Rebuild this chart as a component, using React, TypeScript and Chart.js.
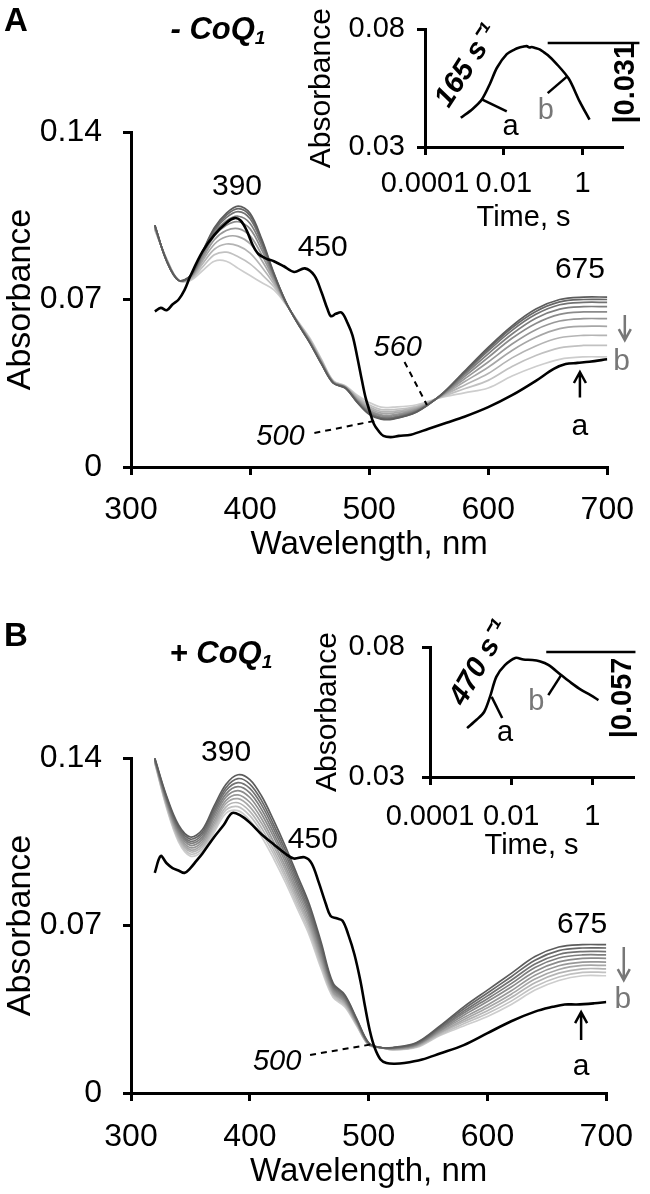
import React, { useEffect, useRef } from "react";
import { Chart, registerables } from "chart.js";

Chart.register(...registerables);

const SANS = "'Liberation Sans', Arial, Helvetica, sans-serif";

// ---------- axes ----------
const X_TICKS = [300, 400, 500, 600, 700];
const X_TICK_LABELS = ["300", "400", "500", "600", "700"];
const Y_TICKS = [0, 0.07, 0.14];
const Y_TICK_LABELS = ["0", "0.07", "0.14"];
const INSET_X_TICKS = [0.0001, 0.01, 1];
const INSET_X_TICK_LABELS = ["0.0001", "0.01", "1"];
const INSET_Y_TICKS = [0.03, 0.08];
const INSET_Y_TICK_LABELS = ["0.03", "0.08"];

// ---------- spectra: shared wavelength grid (nm) ----------
const WAVELENGTHS = [320, 330, 340, 350, 360, 370, 380, 390, 400, 410, 420, 430, 440, 450, 460, 470, 480, 490, 500, 510, 520, 540, 560, 580, 600, 620, 640, 660, 680, 700];

const GRAY_COLORS = ["#5c5c5c", "#676767", "#727272", "#7e7e7e", "#8b8b8b", "#989898", "#a6a6a6", "#b4b4b4", "#c1c1c1", "#cdcdcd"];

// Panel A (- CoQ1) gray spectra, earliest (dark) to latest (light)
const A_SPEC_1 = [0.101, 0.086, 0.078, 0.080, 0.090, 0.100, 0.106, 0.109, 0.106, 0.095, 0.081, 0.069, 0.060, 0.052, 0.043, 0.035, 0.033, 0.027, 0.022, 0.020, 0.020, 0.023, 0.030, 0.040, 0.050, 0.059, 0.066, 0.070, 0.071, 0.071];
const A_SPEC_2 = [0.101, 0.086, 0.078, 0.080, 0.0897, 0.0994, 0.1052, 0.108, 0.105, 0.0943, 0.0807, 0.069, 0.060, 0.0521, 0.0431, 0.035, 0.033, 0.0271, 0.0222, 0.0202, 0.0202, 0.0231, 0.030, 0.0396, 0.0493, 0.0582, 0.065, 0.069, 0.070, 0.070];
const A_SPEC_3 = [0.101, 0.086, 0.078, 0.0798, 0.0893, 0.0987, 0.1042, 0.1067, 0.1037, 0.0934, 0.0804, 0.0689, 0.0601, 0.0522, 0.0432, 0.0351, 0.0331, 0.0273, 0.0225, 0.0205, 0.0205, 0.0233, 0.0299, 0.0392, 0.0485, 0.0571, 0.0638, 0.0678, 0.0688, 0.0688];
const A_SPEC_4 = [0.101, 0.086, 0.078, 0.0797, 0.0887, 0.0978, 0.1028, 0.1048, 0.1018, 0.0921, 0.0799, 0.0688, 0.0602, 0.0523, 0.0433, 0.0352, 0.0332, 0.0275, 0.0228, 0.0208, 0.0208, 0.0235, 0.0298, 0.0386, 0.0473, 0.0556, 0.0622, 0.066, 0.067, 0.067];
const A_SPEC_5 = [0.1005, 0.0863, 0.078, 0.0795, 0.088, 0.0965, 0.101, 0.1025, 0.0995, 0.0905, 0.0793, 0.0688, 0.0603, 0.0525, 0.0435, 0.0353, 0.0333, 0.0278, 0.0233, 0.0213, 0.0213, 0.0238, 0.0298, 0.0378, 0.0458, 0.0538, 0.060, 0.0638, 0.0648, 0.0648];
const A_SPEC_6 = [0.100, 0.0864, 0.078, 0.0793, 0.0871, 0.095, 0.0988, 0.0996, 0.0966, 0.0885, 0.0785, 0.0686, 0.0604, 0.0527, 0.0437, 0.0354, 0.0334, 0.0281, 0.0238, 0.0218, 0.0218, 0.0241, 0.0296, 0.0368, 0.0439, 0.0514, 0.0574, 0.061, 0.062, 0.062];
const A_SPEC_7 = [0.100, 0.0865, 0.078, 0.079, 0.0861, 0.0931, 0.0962, 0.0963, 0.0933, 0.0862, 0.0776, 0.0685, 0.0605, 0.053, 0.044, 0.0355, 0.0335, 0.0285, 0.0245, 0.0225, 0.0225, 0.0245, 0.0295, 0.0356, 0.0417, 0.0487, 0.0542, 0.0578, 0.0588, 0.0588];
const A_SPEC_8 = [0.0997, 0.0866, 0.078, 0.0787, 0.0849, 0.091, 0.0932, 0.0924, 0.0894, 0.0835, 0.0765, 0.0684, 0.0606, 0.0533, 0.0443, 0.0356, 0.0336, 0.0289, 0.0252, 0.0232, 0.0232, 0.0249, 0.0294, 0.0342, 0.0391, 0.0456, 0.0506, 0.054, 0.055, 0.055];
const A_SPEC_9 = [0.0994, 0.0868, 0.078, 0.0784, 0.0835, 0.0887, 0.0898, 0.0879, 0.0849, 0.0804, 0.0753, 0.0682, 0.0608, 0.0536, 0.0446, 0.0358, 0.0338, 0.0294, 0.026, 0.024, 0.024, 0.0254, 0.0292, 0.0327, 0.0362, 0.042, 0.0466, 0.0498, 0.0508, 0.0508];
const A_SPEC_10 = [0.099, 0.087, 0.078, 0.078, 0.082, 0.086, 0.086, 0.083, 0.080, 0.077, 0.074, 0.068, 0.061, 0.054, 0.045, 0.036, 0.034, 0.030, 0.027, 0.025, 0.025, 0.026, 0.029, 0.031, 0.033, 0.038, 0.042, 0.045, 0.046, 0.046];

// Panel A initial spectrum (a, black)
const A_BLACK_WL = [320, 325, 330, 335, 340, 345, 350, 360, 370, 380, 387, 392, 397, 402, 407, 414, 420, 428, 437, 446, 454, 460, 465, 468, 472, 477, 482, 486, 490, 494, 497, 500, 504, 508, 512, 518, 525, 535, 550, 565, 580, 600, 620, 640, 655, 665, 675, 685, 700];
const A_BLACK = [0.065, 0.0665, 0.0655, 0.068, 0.070, 0.074, 0.080, 0.090, 0.097, 0.102, 0.104, 0.103, 0.099, 0.093, 0.089, 0.087, 0.086, 0.084, 0.0815, 0.083, 0.080, 0.073, 0.066, 0.063, 0.064, 0.0645, 0.060, 0.055, 0.046, 0.036, 0.029, 0.024, 0.018, 0.015, 0.013, 0.0125, 0.013, 0.0135, 0.016, 0.0185, 0.021, 0.025, 0.030, 0.036, 0.041, 0.043, 0.0435, 0.044, 0.045];

// Panel B (+ CoQ1) gray spectra
const B_SPEC_1 = [0.140, 0.124, 0.112, 0.107, 0.110, 0.120, 0.129, 0.133, 0.131, 0.124, 0.114, 0.103, 0.091, 0.079, 0.063, 0.046, 0.041, 0.031, 0.021, 0.019, 0.019, 0.021, 0.028, 0.036, 0.043, 0.050, 0.057, 0.061, 0.062, 0.062];
const B_SPEC_2 = [0.1398, 0.1235, 0.1112, 0.1061, 0.109, 0.1188, 0.1277, 0.1314, 0.1291, 0.1221, 0.1122, 0.1014, 0.0895, 0.0776, 0.0618, 0.0453, 0.0405, 0.0307, 0.0209, 0.019, 0.0189, 0.0208, 0.0276, 0.0351, 0.0418, 0.0486, 0.0555, 0.0595, 0.0606, 0.0606];
const B_SPEC_3 = [0.1396, 0.1229, 0.1105, 0.1052, 0.108, 0.1176, 0.1264, 0.1297, 0.1273, 0.1203, 0.1105, 0.0997, 0.0879, 0.0761, 0.0606, 0.0447, 0.0399, 0.0303, 0.0208, 0.019, 0.0188, 0.0206, 0.0271, 0.0342, 0.0406, 0.0471, 0.0539, 0.0579, 0.0591, 0.0591];
const B_SPEC_4 = [0.1393, 0.1224, 0.1097, 0.1044, 0.107, 0.1164, 0.125, 0.128, 0.1254, 0.1184, 0.1087, 0.098, 0.0864, 0.0747, 0.0594, 0.044, 0.0394, 0.030, 0.0207, 0.019, 0.0187, 0.0203, 0.0267, 0.0334, 0.0394, 0.0457, 0.0524, 0.0564, 0.0577, 0.0577];
const B_SPEC_5 = [0.1391, 0.1218, 0.1089, 0.1035, 0.106, 0.1152, 0.1237, 0.1264, 0.1235, 0.1165, 0.107, 0.0964, 0.0848, 0.0733, 0.0582, 0.0434, 0.0388, 0.0297, 0.0206, 0.019, 0.0186, 0.0201, 0.0262, 0.0325, 0.0382, 0.0443, 0.0508, 0.0548, 0.0563, 0.0563];
const B_SPEC_6 = [0.1389, 0.1212, 0.1081, 0.1025, 0.105, 0.1138, 0.1223, 0.1246, 0.1215, 0.1145, 0.105, 0.0946, 0.0832, 0.0717, 0.0568, 0.0426, 0.0382, 0.0293, 0.0204, 0.019, 0.0184, 0.0199, 0.0258, 0.0315, 0.0368, 0.0427, 0.0492, 0.0532, 0.0547, 0.0547];
const B_SPEC_7 = [0.1387, 0.1207, 0.1073, 0.1016, 0.104, 0.1126, 0.121, 0.123, 0.1196, 0.1126, 0.1033, 0.093, 0.0816, 0.0703, 0.0556, 0.042, 0.0377, 0.029, 0.0203, 0.019, 0.0183, 0.0197, 0.0253, 0.0306, 0.0356, 0.0413, 0.0476, 0.0516, 0.0533, 0.0533];
const B_SPEC_8 = [0.1384, 0.1201, 0.1065, 0.1008, 0.103, 0.1114, 0.1196, 0.1213, 0.1177, 0.1107, 0.1015, 0.0913, 0.0801, 0.0689, 0.0544, 0.0413, 0.0371, 0.0287, 0.0202, 0.019, 0.0182, 0.0194, 0.0249, 0.0298, 0.0344, 0.0399, 0.0461, 0.0501, 0.0519, 0.0519];
const B_SPEC_9 = [0.1382, 0.1196, 0.1058, 0.0999, 0.102, 0.1102, 0.1183, 0.1197, 0.1159, 0.1089, 0.0998, 0.0897, 0.0785, 0.0674, 0.0532, 0.0407, 0.0366, 0.0283, 0.0201, 0.019, 0.0181, 0.0192, 0.0244, 0.0289, 0.0332, 0.0384, 0.0445, 0.0485, 0.0504, 0.0504];
const B_SPEC_10 = [0.138, 0.119, 0.105, 0.099, 0.101, 0.109, 0.117, 0.118, 0.114, 0.107, 0.098, 0.088, 0.077, 0.066, 0.052, 0.040, 0.036, 0.028, 0.020, 0.019, 0.018, 0.019, 0.024, 0.028, 0.032, 0.037, 0.043, 0.047, 0.049, 0.049];

// Panel B initial spectrum (a, black)
const B_BLACK_WL = [320, 325, 330, 335, 340, 345, 350, 355, 360, 370, 378, 385, 392, 400, 410, 420, 430, 437, 446, 452, 458, 464, 468, 473, 478, 483, 488, 493, 497, 501, 505, 510, 515, 522, 530, 545, 560, 580, 600, 620, 640, 655, 665, 675, 690, 700];
const B_BLACK = [0.092, 0.099, 0.096, 0.094, 0.093, 0.092, 0.094, 0.097, 0.100, 0.107, 0.112, 0.117, 0.116, 0.113, 0.108, 0.104, 0.100, 0.098, 0.0985, 0.096, 0.088, 0.079, 0.074, 0.073, 0.072, 0.066, 0.058, 0.047, 0.036, 0.026, 0.019, 0.014, 0.0125, 0.0122, 0.0125, 0.014, 0.0165, 0.020, 0.025, 0.030, 0.034, 0.036, 0.037, 0.037, 0.0375, 0.038];

// Insets: absorbance time courses
const INSET_A_TIME = [0.00081, 0.00164, 0.00277, 0.0044, 0.0067, 0.0119, 0.019, 0.024, 0.030, 0.038, 0.045, 0.051, 0.063, 0.081, 0.10, 0.13, 0.209, 0.443, 0.84, 1.5];
const INSET_A_ABS = [0.0424, 0.0463, 0.0502, 0.0567, 0.0637, 0.0695, 0.0715, 0.0722, 0.0726, 0.0729, 0.0723, 0.0725, 0.0721, 0.0715, 0.0705, 0.0691, 0.0657, 0.0591, 0.0494, 0.0416];
const INSET_B_TIME = [0.00082, 0.0014, 0.00215, 0.0030, 0.0043, 0.007, 0.0126, 0.020, 0.033, 0.050, 0.082, 0.17, 0.30, 0.53, 0.90, 1.41];
const INSET_B_ABS = [0.0488, 0.052, 0.055, 0.0608, 0.0685, 0.073, 0.0758, 0.0752, 0.075, 0.0745, 0.0731, 0.0692, 0.0662, 0.0635, 0.0615, 0.0596];

const A_GRAYS = [A_SPEC_1, A_SPEC_2, A_SPEC_3, A_SPEC_4, A_SPEC_5, A_SPEC_6, A_SPEC_7, A_SPEC_8, A_SPEC_9, A_SPEC_10];
const B_GRAYS = [B_SPEC_1, B_SPEC_2, B_SPEC_3, B_SPEC_4, B_SPEC_5, B_SPEC_6, B_SPEC_7, B_SPEC_8, B_SPEC_9, B_SPEC_10];

// ---------- annotations (in data coordinates) ----------
type Ann =
  | { k: "text"; x: number; y: number; text: string; size: number; style?: string; color?: string; rot?: number }
  | { k: "line"; x1: number; y1: number; x2: number; y2: number; dash?: number[]; width?: number; color?: string }
  | { k: "arrow"; x: number; from: number; to: number; color: string };

const A_ANN: Ann[] = [
  { k: "text", x: 389, y: 0.117, text: "390", size: 30 },
  { k: "text", x: 461, y: 0.0915, text: "450", size: 30 },
  { k: "text", x: 677, y: 0.0823, text: "675", size: 30 },
  { k: "text", x: 524, y: 0.0497, text: "560", size: 29, style: "italic" },
  { k: "line", x1: 529.7, y1: 0.0439, x2: 548.5, y2: 0.0259, dash: [6, 5], width: 2 },
  { k: "text", x: 425.5, y: 0.0125, text: "500", size: 29, style: "italic" },
  { k: "line", x1: 454, y1: 0.0142, x2: 507.7, y2: 0.0196, dash: [6, 5], width: 2 },
  { k: "arrow", x: 714.7, from: 0.0635, to: 0.053, color: "#777" },
  { k: "text", x: 712, y: 0.0439, text: "b", size: 30, color: "#777" },
  { k: "arrow", x: 677, from: 0.029, to: 0.0397, color: "#000" },
  { k: "text", x: 677, y: 0.0167, text: "a", size: 30 },
];

const B_ANN: Ann[] = [
  { k: "text", x: 380, y: 0.142, text: "390", size: 30 },
  { k: "text", x: 453, y: 0.1057, text: "450", size: 30 },
  { k: "text", x: 679.6, y: 0.0702, text: "675", size: 30 },
  { k: "text", x: 423, y: 0.013, text: "500", size: 29, style: "italic" },
  { k: "line", x1: 450.7, y1: 0.0159, x2: 504.5, y2: 0.0205, dash: [6, 5], width: 2 },
  { k: "arrow", x: 714.7, from: 0.061, to: 0.0472, color: "#777" },
  { k: "text", x: 714, y: 0.0389, text: "b", size: 30, color: "#777" },
  { k: "arrow", x: 678.8, from: 0.0221, to: 0.0338, color: "#000" },
  { k: "text", x: 678.8, y: 0.0109, text: "a", size: 30 },
];

const INSET_A_ANN: Ann[] = [
  { k: "line", x1: 0.00277, y1: 0.0502, x2: 0.0119, y2: 0.0451, width: 2.5 },
  { k: "text", x: 0.0149, y: 0.0385, text: "a", size: 29 },
  { k: "line", x1: 0.394, y1: 0.0598, x2: 0.13, y2: 0.0529, width: 2.5 },
  { k: "text", x: 0.116, y: 0.0455, text: "b", size: 29, color: "#777" },
  { k: "text", x: 0.00118, y: 0.0645, text: "165 s\u207B\u00B9", size: 29, style: "italic bold", rot: -57 },
  { k: "line", x1: 0.13, y1: 0.0742, x2: 27.7, y2: 0.0742, width: 2.5 },
  { k: "text", x: 13.0, y: 0.0571, text: "|0.031", size: 29, style: "bold", rot: -90 },
];

const INSET_B_ANN: Ann[] = [
  { k: "line", x1: 0.0033, y1: 0.0608, x2: 0.006, y2: 0.0527, width: 2.5 },
  { k: "text", x: 0.0071, y: 0.0469, text: "a", size: 29 },
  { k: "line", x1: 0.17, y1: 0.0692, x2: 0.082, y2: 0.0615, width: 2.5 },
  { k: "text", x: 0.0414, y: 0.0588, text: "b", size: 29, color: "#777" },
  { k: "text", x: 0.00172, y: 0.0738, text: "470 s\u207B\u00B9", size: 29, style: "italic bold", rot: -60 },
  { k: "line", x1: 0.073, y1: 0.0781, x2: 11.5, y2: 0.0781, width: 2.5 },
  { k: "text", x: 5.8, y: 0.0604, text: "|0.057", size: 29, style: "bold", rot: -90 },
];

function annotationPlugin(items: Ann[]) {
  return {
    id: "annotations",
    afterDraw(chart: any) {
      const ctx = chart.ctx;
      const xs = chart.scales.x;
      const ys = chart.scales.y;
      for (const a of items) {
        ctx.save();
        if (a.k === "text") {
          ctx.translate(xs.getPixelForValue(a.x), ys.getPixelForValue(a.y));
          if (a.rot) ctx.rotate((a.rot * Math.PI) / 180);
          ctx.font = `${a.style || ""} ${a.size}px ${SANS}`;
          ctx.fillStyle = a.color || "#000";
          ctx.textAlign = "center";
          ctx.textBaseline = "middle";
          ctx.fillText(a.text, 0, 0);
        } else if (a.k === "line") {
          ctx.strokeStyle = a.color || "#000";
          ctx.lineWidth = a.width || 2;
          ctx.setLineDash(a.dash || []);
          ctx.beginPath();
          ctx.moveTo(xs.getPixelForValue(a.x1), ys.getPixelForValue(a.y1));
          ctx.lineTo(xs.getPixelForValue(a.x2), ys.getPixelForValue(a.y2));
          ctx.stroke();
        } else if (a.k === "arrow") {
          const px = xs.getPixelForValue(a.x);
          const p1 = ys.getPixelForValue(a.from);
          const p2 = ys.getPixelForValue(a.to);
          const dir = Math.sign(p2 - p1);
          ctx.strokeStyle = a.color;
          ctx.lineWidth = 2.5;
          ctx.beginPath();
          ctx.moveTo(px, p1);
          ctx.lineTo(px, p2 - dir);
          ctx.moveTo(px - 6, p2 - dir * 11);
          ctx.lineTo(px, p2);
          ctx.lineTo(px + 6, p2 - dir * 11);
          ctx.stroke();
        }
        ctx.restore();
      }
    },
  };
}

type Geom = {
  width: number;
  height: number;
  padTop: number;
  padRight: number;
  yWidth: number;
  xHeight: number;
  xTickPad: number;
  xTitlePadBottom: number;
  yTickPad: number;
  yTitlePadTop: number;
};

function mainChart(canvas: HTMLCanvasElement, grays: number[][], blackWl: number[], black: number[], ann: Ann[], g: Geom) {
  const datasets: any[] = [
    { data: blackWl.map((x, i) => ({ x, y: black[i] })), borderColor: "#000", borderWidth: 2.6 },
    ...grays.map((s, i) => ({
      data: WAVELENGTHS.map((x, j) => ({ x, y: s[j] })),
      borderColor: GRAY_COLORS[i],
      borderWidth: 1.7,
    })),
  ];
  return new Chart(canvas, {
    type: "line",
    data: { datasets },
    options: {
      animation: false,
      responsive: false,
      events: [],
      layout: { padding: { left: 0, right: g.padRight, top: g.padTop, bottom: 0 } },
      plugins: { legend: { display: false }, tooltip: { enabled: false } },
      elements: { point: { radius: 0 }, line: { tension: 0.35 } },
      scales: {
        x: {
          type: "linear",
          min: 300,
          max: 700,
          afterBuildTicks: (s: any) => {
            s.ticks = X_TICKS.map((v) => ({ value: v }));
          },
          ticks: {
            callback: (_v: any, i: number) => X_TICK_LABELS[i],
            font: { family: SANS, size: 32 },
            color: "#000",
            padding: g.xTickPad,
            maxRotation: 0,
            autoSkip: false,
          },
          grid: { drawOnChartArea: false, tickLength: 8, color: "#000", lineWidth: 3 },
          border: { display: true, color: "#000", width: 3 },
          title: {
            display: true,
            text: "Wavelength, nm",
            font: { family: SANS, size: 33 },
            color: "#000",
            padding: { top: 0, bottom: g.xTitlePadBottom },
          },
          afterFit: (s: any) => {
            s.height = g.xHeight;
          },
        },
        y: {
          type: "linear",
          min: 0,
          max: 0.14,
          afterBuildTicks: (s: any) => {
            s.ticks = Y_TICKS.map((v) => ({ value: v }));
          },
          ticks: {
            callback: (_v: any, i: number) => Y_TICK_LABELS[i],
            font: { family: SANS, size: 32 },
            color: "#000",
            padding: g.yTickPad,
          },
          grid: { drawOnChartArea: false, tickLength: 8, color: "#000", lineWidth: 3 },
          border: { display: true, color: "#000", width: 3 },
          title: {
            display: true,
            text: "Absorbance",
            font: { family: SANS, size: 34 },
            color: "#000",
            padding: { top: g.yTitlePadTop, bottom: 0 },
          },
          afterFit: (s: any) => {
            s.width = g.yWidth;
          },
        },
      },
    },
    plugins: [annotationPlugin(ann)],
  } as any);
}

function insetChart(canvas: HTMLCanvasElement, times: number[], abs: number[], ann: Ann[], g: Geom) {
  return new Chart(canvas, {
    type: "line",
    data: {
      datasets: [
        { data: times.map((x, i) => ({ x, y: abs[i] })), borderColor: "#000", borderWidth: 2.6 },
      ],
    },
    options: {
      animation: false,
      responsive: false,
      events: [],
      layout: { padding: { left: 0, right: g.padRight, top: g.padTop, bottom: 0 } },
      plugins: { legend: { display: false }, tooltip: { enabled: false } },
      elements: { point: { radius: 0 }, line: { tension: 0.3 } },
      scales: {
        x: {
          type: "logarithmic",
          min: 0.0001,
          max: 10,
          afterBuildTicks: (s: any) => {
            s.ticks = INSET_X_TICKS.map((v) => ({ value: v }));
          },
          ticks: {
            callback: (_v: any, i: number) => INSET_X_TICK_LABELS[i],
            font: { family: SANS, size: 29 },
            color: "#000",
            padding: g.xTickPad,
            maxRotation: 0,
            autoSkip: false,
          },
          grid: { drawOnChartArea: false, tickLength: 8, color: "#000", lineWidth: 3 },
          border: { display: true, color: "#000", width: 3 },
          title: {
            display: true,
            text: "Time, s",
            font: { family: SANS, size: 29 },
            color: "#000",
            padding: { top: 0, bottom: g.xTitlePadBottom },
          },
          afterFit: (s: any) => {
            s.height = g.xHeight;
          },
        },
        y: {
          type: "linear",
          min: 0.03,
          max: 0.08,
          afterBuildTicks: (s: any) => {
            s.ticks = INSET_Y_TICKS.map((v) => ({ value: v }));
          },
          ticks: {
            callback: (_v: any, i: number) => INSET_Y_TICK_LABELS[i],
            font: { family: SANS, size: 29 },
            color: "#000",
            padding: g.yTickPad,
          },
          grid: { drawOnChartArea: false, tickLength: 8, color: "#000", lineWidth: 3 },
          border: { display: true, color: "#000", width: 3 },
          title: {
            display: true,
            text: "Absorbance",
            font: { family: SANS, size: 30 },
            color: "#000",
            padding: { top: g.yTitlePadTop, bottom: 0 },
          },
          afterFit: (s: any) => {
            s.width = g.yWidth;
          },
        },
      },
    },
    plugins: [annotationPlugin(ann)],
  } as any);
}

const MAIN_A_GEOM: Geom = { width: 650, height: 580, padTop: 132, padRight: 28, yWidth: 131, xHeight: 113, xTickPad: 16, xTitlePadBottom: 15, yTickPad: 21, yTitlePadTop: 0 };
const MAIN_B_GEOM: Geom = { width: 650, height: 574, padTop: 138, padRight: 28, yWidth: 131, xHeight: 101, xTickPad: 17, xTitlePadBottom: 2, yTickPad: 21, yTitlePadTop: 0 };
const INSET_A_GEOM: Geom = { width: 400, height: 240, padTop: 18, padRight: 28, yWidth: 175, xHeight: 93, xTickPad: 12, xTitlePadBottom: 5, yTickPad: 12, yTitlePadTop: 54 };
const INSET_B_GEOM: Geom = { width: 400, height: 270, padTop: 47, padRight: 17, yWidth: 180, xHeight: 93, xTickPad: 15, xTitlePadBottom: 7, yTickPad: 17, yTitlePadTop: 60 };

function Canvas({ left, top, geom, make }: { left: number; top: number; geom: Geom; make: (c: HTMLCanvasElement) => Chart }) {
  const ref = useRef<HTMLCanvasElement | null>(null);
  useEffect(() => {
    if (!ref.current) return;
    const chart = make(ref.current);
    return () => chart.destroy();
  }, []);
  return (
    <canvas
      ref={ref}
      width={geom.width}
      height={geom.height}
      style={{ position: "absolute", left, top, width: geom.width, height: geom.height, display: "block" }}
    />
  );
}

const labelStyle = (left: number, top: number, size: number, style: string): React.CSSProperties => ({
  position: "absolute",
  left,
  top,
  transform: "translate(-50%, -50%)",
  font: `${style} ${size}px ${SANS}`,
  color: "#000",
  whiteSpace: "nowrap",
  lineHeight: 1,
});

export default function App() {
  return (
    <div style={{ position: "absolute", left: 0, top: 0, width: 650, height: 1194, background: "#fff", overflow: "hidden" }}>
      <Canvas left={0} top={0} geom={MAIN_A_GEOM} make={(c) => mainChart(c, A_GRAYS, A_BLACK_WL, A_BLACK, A_ANN, MAIN_A_GEOM)} />
      <Canvas left={250} top={0} geom={INSET_A_GEOM} make={(c) => insetChart(c, INSET_A_TIME, INSET_A_ABS, INSET_A_ANN, INSET_A_GEOM)} />
      <Canvas left={0} top={620} geom={MAIN_B_GEOM} make={(c) => mainChart(c, B_GRAYS, B_BLACK_WL, B_BLACK, B_ANN, MAIN_B_GEOM)} />
      <Canvas left={250} top={600} geom={INSET_B_GEOM} make={(c) => insetChart(c, INSET_B_TIME, INSET_B_ABS, INSET_B_ANN, INSET_B_GEOM)} />
      <div style={labelStyle(16, 19, 33, "bold")}>A</div>
      <div style={labelStyle(218, 30, 31, "italic bold")}>
        - CoQ<sub style={{ fontSize: "0.62em", verticalAlign: "-0.25em" }}>1</sub>
      </div>
      <div style={labelStyle(16, 634, 33, "bold")}>B</div>
      <div style={labelStyle(221, 654, 31, "italic bold")}>
        + CoQ<sub style={{ fontSize: "0.62em", verticalAlign: "-0.25em" }}>1</sub>
      </div>
    </div>
  );
}
